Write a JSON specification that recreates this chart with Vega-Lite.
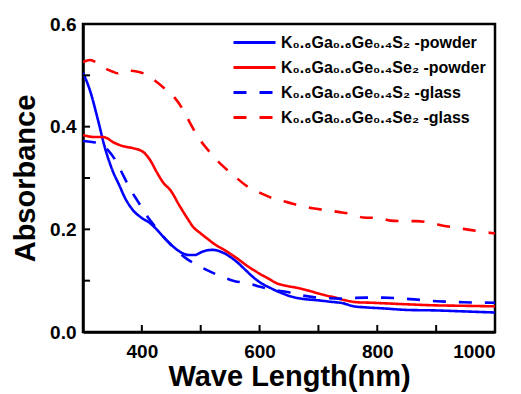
{
  "$schema": "https://vega.github.io/schema/vega-lite/v6.json",
  "width": 412,
  "height": 308,
  "autosize": "none",
  "padding": {"left": 83, "top": 24, "right": 26, "bottom": 62},
  "config": {
    "font": "Liberation Sans",
    "view": {"stroke": "black", "strokeWidth": 2.5},
    "axis": {
      "domainColor": "black",
      "domainWidth": 2.5,
      "labelFont": "Liberation Sans",
      "labelFontWeight": "bold",
      "labelFontSize": 19,
      "labelColor": "black",
      "titleFont": "Liberation Sans",
      "titleFontWeight": "bold",
      "titleFontSize": 29,
      "titleColor": "black",
      "grid": false
    }
  },
  "datasets": {
    "curves": [
      {"series": "S-powder", "wl": 300, "A": 0.505},
      {"series": "S-powder", "wl": 312, "A": 0.47},
      {"series": "S-powder", "wl": 325, "A": 0.415},
      {"series": "S-powder", "wl": 337, "A": 0.36},
      {"series": "S-powder", "wl": 350, "A": 0.315},
      {"series": "S-powder", "wl": 362, "A": 0.285},
      {"series": "S-powder", "wl": 371, "A": 0.262},
      {"series": "S-powder", "wl": 383, "A": 0.24},
      {"series": "S-powder", "wl": 400, "A": 0.222},
      {"series": "S-powder", "wl": 414, "A": 0.212},
      {"series": "S-powder", "wl": 425, "A": 0.2},
      {"series": "S-powder", "wl": 436, "A": 0.186},
      {"series": "S-powder", "wl": 448, "A": 0.172},
      {"series": "S-powder", "wl": 460, "A": 0.16},
      {"series": "S-powder", "wl": 470, "A": 0.153},
      {"series": "S-powder", "wl": 480, "A": 0.15},
      {"series": "S-powder", "wl": 490, "A": 0.15},
      {"series": "S-powder", "wl": 500, "A": 0.155},
      {"series": "S-powder", "wl": 510, "A": 0.159},
      {"series": "S-powder", "wl": 520, "A": 0.16},
      {"series": "S-powder", "wl": 535, "A": 0.156},
      {"series": "S-powder", "wl": 548, "A": 0.148},
      {"series": "S-powder", "wl": 561, "A": 0.137},
      {"series": "S-powder", "wl": 575, "A": 0.122},
      {"series": "S-powder", "wl": 589, "A": 0.107},
      {"series": "S-powder", "wl": 603, "A": 0.095},
      {"series": "S-powder", "wl": 618, "A": 0.086},
      {"series": "S-powder", "wl": 637, "A": 0.076},
      {"series": "S-powder", "wl": 657, "A": 0.068},
      {"series": "S-powder", "wl": 677, "A": 0.064},
      {"series": "S-powder", "wl": 697, "A": 0.062},
      {"series": "S-powder", "wl": 720, "A": 0.059},
      {"series": "S-powder", "wl": 742, "A": 0.056},
      {"series": "S-powder", "wl": 760, "A": 0.05},
      {"series": "S-powder", "wl": 780, "A": 0.048},
      {"series": "S-powder", "wl": 810, "A": 0.046},
      {"series": "S-powder", "wl": 850, "A": 0.043},
      {"series": "S-powder", "wl": 900, "A": 0.042},
      {"series": "S-powder", "wl": 950, "A": 0.04},
      {"series": "S-powder", "wl": 1000, "A": 0.038},

      {"series": "Se-powder", "wl": 300, "A": 0.384},
      {"series": "Se-powder", "wl": 317, "A": 0.38},
      {"series": "Se-powder", "wl": 332, "A": 0.38},
      {"series": "Se-powder", "wl": 340, "A": 0.378},
      {"series": "Se-powder", "wl": 351, "A": 0.37},
      {"series": "Se-powder", "wl": 368, "A": 0.362},
      {"series": "Se-powder", "wl": 385, "A": 0.358},
      {"series": "Se-powder", "wl": 402, "A": 0.351},
      {"series": "Se-powder", "wl": 414, "A": 0.335},
      {"series": "Se-powder", "wl": 426, "A": 0.31},
      {"series": "Se-powder", "wl": 437, "A": 0.29},
      {"series": "Se-powder", "wl": 448, "A": 0.277},
      {"series": "Se-powder", "wl": 465, "A": 0.244},
      {"series": "Se-powder", "wl": 477, "A": 0.222},
      {"series": "Se-powder", "wl": 487, "A": 0.205},
      {"series": "Se-powder", "wl": 500, "A": 0.192},
      {"series": "Se-powder", "wl": 511, "A": 0.182},
      {"series": "Se-powder", "wl": 525, "A": 0.17},
      {"series": "Se-powder", "wl": 540, "A": 0.16},
      {"series": "Se-powder", "wl": 561, "A": 0.144},
      {"series": "Se-powder", "wl": 580, "A": 0.128},
      {"series": "Se-powder", "wl": 601, "A": 0.113},
      {"series": "Se-powder", "wl": 615, "A": 0.104},
      {"series": "Se-powder", "wl": 629, "A": 0.095},
      {"series": "Se-powder", "wl": 645, "A": 0.09},
      {"series": "Se-powder", "wl": 664, "A": 0.086},
      {"series": "Se-powder", "wl": 691, "A": 0.078},
      {"series": "Se-powder", "wl": 710, "A": 0.072},
      {"series": "Se-powder", "wl": 725, "A": 0.068},
      {"series": "Se-powder", "wl": 745, "A": 0.062},
      {"series": "Se-powder", "wl": 765, "A": 0.058},
      {"series": "Se-powder", "wl": 790, "A": 0.057},
      {"series": "Se-powder", "wl": 810, "A": 0.056},
      {"series": "Se-powder", "wl": 850, "A": 0.054},
      {"series": "Se-powder", "wl": 895, "A": 0.052},
      {"series": "Se-powder", "wl": 950, "A": 0.051},
      {"series": "Se-powder", "wl": 1000, "A": 0.05},

      {"series": "S-glass", "wl": 300, "A": 0.372},
      {"series": "S-glass", "wl": 315, "A": 0.37},
      {"series": "S-glass", "wl": 326, "A": 0.368},
      {"series": "S-glass", "wl": 342, "A": 0.355},
      {"series": "S-glass", "wl": 358, "A": 0.329},
      {"series": "S-glass", "wl": 368, "A": 0.306},
      {"series": "S-glass", "wl": 383, "A": 0.273},
      {"series": "S-glass", "wl": 394, "A": 0.253},
      {"series": "S-glass", "wl": 410, "A": 0.224},
      {"series": "S-glass", "wl": 427, "A": 0.199},
      {"series": "S-glass", "wl": 445, "A": 0.175},
      {"series": "S-glass", "wl": 460, "A": 0.158},
      {"series": "S-glass", "wl": 477, "A": 0.142},
      {"series": "S-glass", "wl": 493, "A": 0.131},
      {"series": "S-glass", "wl": 510, "A": 0.121},
      {"series": "S-glass", "wl": 525, "A": 0.113},
      {"series": "S-glass", "wl": 538, "A": 0.107},
      {"series": "S-glass", "wl": 558, "A": 0.099},
      {"series": "S-glass", "wl": 580, "A": 0.095},
      {"series": "S-glass", "wl": 601, "A": 0.088},
      {"series": "S-glass", "wl": 623, "A": 0.082},
      {"series": "S-glass", "wl": 647, "A": 0.078},
      {"series": "S-glass", "wl": 669, "A": 0.072},
      {"series": "S-glass", "wl": 691, "A": 0.068},
      {"series": "S-glass", "wl": 715, "A": 0.066},
      {"series": "S-glass", "wl": 735, "A": 0.065},
      {"series": "S-glass", "wl": 757, "A": 0.066},
      {"series": "S-glass", "wl": 780, "A": 0.067},
      {"series": "S-glass", "wl": 810, "A": 0.067},
      {"series": "S-glass", "wl": 856, "A": 0.064},
      {"series": "S-glass", "wl": 901, "A": 0.06},
      {"series": "S-glass", "wl": 946, "A": 0.058},
      {"series": "S-glass", "wl": 1000, "A": 0.057},

      {"series": "Se-glass", "wl": 300, "A": 0.526},
      {"series": "Se-glass", "wl": 312, "A": 0.53},
      {"series": "Se-glass", "wl": 324, "A": 0.524},
      {"series": "Se-glass", "wl": 340, "A": 0.512},
      {"series": "Se-glass", "wl": 351, "A": 0.507},
      {"series": "Se-glass", "wl": 359, "A": 0.504},
      {"series": "Se-glass", "wl": 368, "A": 0.509},
      {"series": "Se-glass", "wl": 380, "A": 0.509},
      {"series": "Se-glass", "wl": 393, "A": 0.507},
      {"series": "Se-glass", "wl": 410, "A": 0.5},
      {"series": "Se-glass", "wl": 422, "A": 0.49},
      {"series": "Se-glass", "wl": 436, "A": 0.477},
      {"series": "Se-glass", "wl": 456, "A": 0.456},
      {"series": "Se-glass", "wl": 473, "A": 0.427},
      {"series": "Se-glass", "wl": 482, "A": 0.407},
      {"series": "Se-glass", "wl": 499, "A": 0.374},
      {"series": "Se-glass", "wl": 512, "A": 0.355},
      {"series": "Se-glass", "wl": 536, "A": 0.325},
      {"series": "Se-glass", "wl": 555, "A": 0.306},
      {"series": "Se-glass", "wl": 580, "A": 0.283},
      {"series": "Se-glass", "wl": 601, "A": 0.271},
      {"series": "Se-glass", "wl": 626, "A": 0.259},
      {"series": "Se-glass", "wl": 647, "A": 0.253},
      {"series": "Se-glass", "wl": 669, "A": 0.246},
      {"series": "Se-glass", "wl": 690, "A": 0.241},
      {"series": "Se-glass", "wl": 715, "A": 0.237},
      {"series": "Se-glass", "wl": 733, "A": 0.234},
      {"series": "Se-glass", "wl": 759, "A": 0.229},
      {"series": "Se-glass", "wl": 776, "A": 0.223},
      {"series": "Se-glass", "wl": 805, "A": 0.222},
      {"series": "Se-glass", "wl": 822, "A": 0.217},
      {"series": "Se-glass", "wl": 847, "A": 0.216},
      {"series": "Se-glass", "wl": 867, "A": 0.216},
      {"series": "Se-glass", "wl": 893, "A": 0.212},
      {"series": "Se-glass", "wl": 912, "A": 0.207},
      {"series": "Se-glass", "wl": 935, "A": 0.203},
      {"series": "Se-glass", "wl": 957, "A": 0.199},
      {"series": "Se-glass", "wl": 980, "A": 0.195},
      {"series": "Se-glass", "wl": 1000, "A": 0.192}
    ],
    "xticks": [{"v": 400}, {"v": 500}, {"v": 600}, {"v": 700}, {"v": 800}, {"v": 900}],
    "yticks": [{"v": 0.1}, {"v": 0.2}, {"v": 0.3}, {"v": 0.4}, {"v": 0.5}]
  },
  "layer": [
    {
      "data": {"name": "curves"},
      "mark": {"type": "line", "strokeWidth": 2.6, "interpolate": "monotone", "clip": true},
      "encoding": {
        "x": {
          "field": "wl",
          "type": "quantitative",
          "scale": {"domain": [300, 1000], "nice": false, "zero": false},
          "axis": {
            "title": "Wave Length(nm)",
            "values": [400, 600, 800, 1000],
            "labelExpr": "format(datum.value, 'd')",
            "ticks": false,
            "labelPadding": 10,
            "titlePadding": 1
          }
        },
        "y": {
          "field": "A",
          "type": "quantitative",
          "scale": {"domain": [0, 0.6], "nice": false},
          "axis": {
            "title": "Absorbance",
            "values": [0, 0.2, 0.4, 0.6],
            "format": ".1f",
            "ticks": false,
            "labelPadding": 7,
            "titlePadding": 9
          }
        },
        "color": {
          "field": "series",
          "type": "nominal",
          "scale": {
            "domain": ["S-powder", "Se-powder", "S-glass", "Se-glass"],
            "range": ["#0000ff", "#ff0000", "#0000ff", "#ff0000"]
          },
          "legend": {
            "title": null,
            "orient": "none",
            "legendX": 156,
            "legendY": 3,
            "padding": 0,
            "symbolType": "M-1.5,0H1.5",
            "symbolSize": 784,
            "symbolStrokeWidth": 3,
            "rowPadding": 1,
            "labelOffset": 11,
            "labelFont": "Liberation Sans",
            "labelFontWeight": "bold",
            "labelFontSize": 16,
            "labelColor": "black",
            "labelLimit": 400,
            "labelExpr": "{'S-powder': 'K₀.₆Ga₀.₆Ge₀.₄S₂   -powder', 'Se-powder': 'K₀.₆Ga₀.₆Ge₀.₄Se₂ -powder', 'S-glass': 'K₀.₆Ga₀.₆Ge₀.₄S₂   -glass', 'Se-glass': 'K₀.₆Ga₀.₆Ge₀.₄Se₂ -glass'}[datum.value]"
          }
        },
        "strokeDash": {
          "field": "series",
          "type": "nominal",
          "scale": {
            "domain": ["S-powder", "Se-powder", "S-glass", "Se-glass"],
            "range": [[1, 0], [1, 0], [13, 13], [13, 13]]
          },
          "legend": null
        }
      }
    },
    {
      "data": {"name": "xticks"},
      "mark": {"type": "rule", "color": "black", "strokeWidth": 2},
      "encoding": {
        "x": {"field": "v", "type": "quantitative"},
        "y": {"datum": 0},
        "y2": {"datum": 0.0136}
      }
    },
    {
      "data": {"name": "yticks"},
      "mark": {"type": "rule", "color": "black", "strokeWidth": 2},
      "encoding": {
        "y": {"field": "v", "type": "quantitative"},
        "x": {"datum": 300},
        "x2": {"datum": 312}
      }
    }
  ]
}
